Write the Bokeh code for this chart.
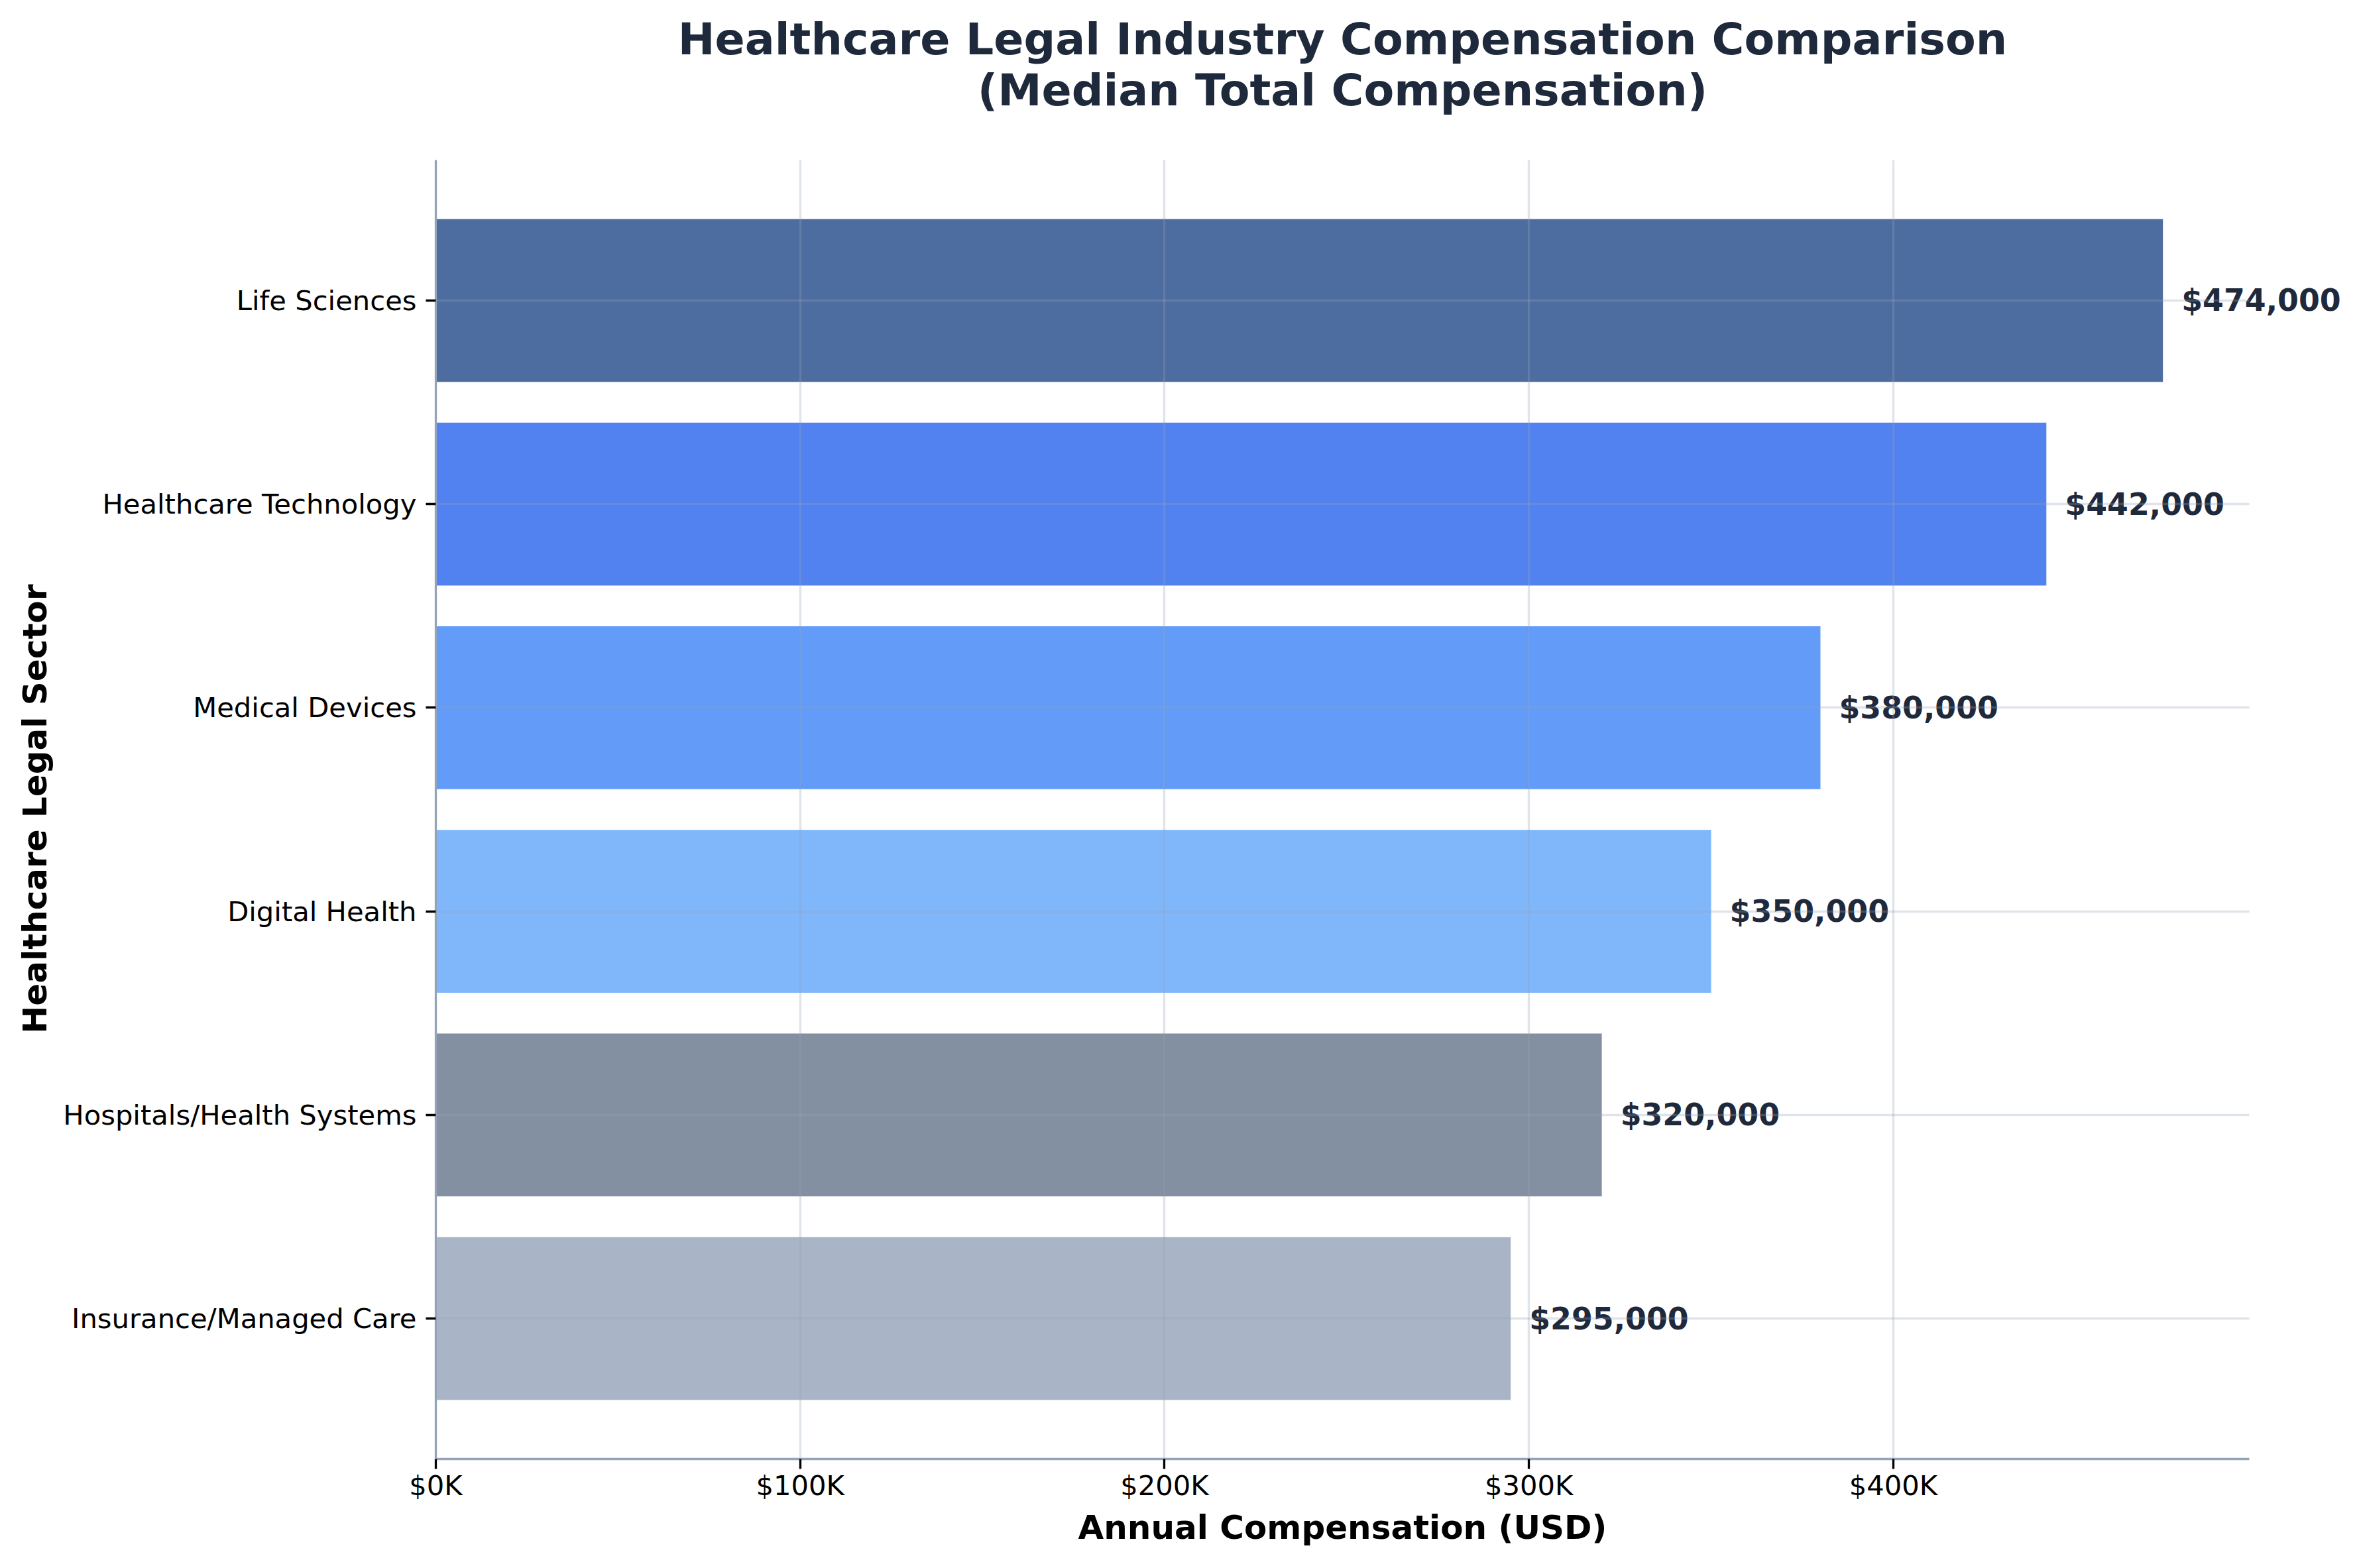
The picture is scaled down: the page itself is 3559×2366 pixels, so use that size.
from bokeh.core.properties import value
from bokeh.embed import file_html
from bokeh.models import (ColumnDataSource, CustomJSTickFormatter, FixedTicker,
                          Label, LabelSet, Range1d, Title)
from bokeh.plotting import figure
from bokeh.resources import INLINE

# Sectors from bottom to top, with median total compensation (USD)
categories = [
    "Insurance/Managed Care",
    "Hospitals/Health Systems",
    "Digital Health",
    "Medical Devices",
    "Healthcare Technology",
    "Life Sciences",
]
values = [295000, 320000, 350000, 380000, 442000, 474000]
colors = ["#94a3b8", "#64748b", "#60a5fa", "#3b82f6", "#2563eb", "#204788"]
x_ticks = [0, 100000, 200000, 300000, 400000]
title_lines = ["Healthcare Legal Industry Compensation Comparison", "(Median Total Compensation)"]

FONT = "DejaVu Sans"
DARK = "#1e293b"
SPINE = "#94a3b8"

# layout (px). The frame runs on to the right and top page edges so that the
# value labels and the title (drawn as annotations) are not clipped; the axes
# themselves end at x_max / y_hi via bounds.
W, H = 3551, 2358
LEFT, AXES_RIGHT, TOP, AXES_BOTTOM = 657, 3393, 241, 2201
BOTTOM = H - AXES_BOTTOM
x_max = max(values) * 1.05
x_end = x_max * (W - LEFT) / (AXES_RIGHT - LEFT)
y_lo, y_hi = -0.69, len(categories) - 1 + 0.69
unit_px = (AXES_BOTTOM - TOP) / (y_hi - y_lo)
y_end = y_hi + TOP / unit_px

positions = list(range(len(categories)))
source = ColumnDataSource(data={
    "y": positions,
    "value": values,
    "color": colors,
    "label": [f"${v:,}" for v in values],
})

p = figure(
    width=W,
    height=H,
    x_range=Range1d(0, x_end),
    y_range=Range1d(y_lo, y_end),
    output_backend="svg",
    toolbar_location=None,
    title_location=None,
    min_border_left=LEFT,
    min_border_right=0,
    min_border_top=0,
    min_border_bottom=BOTTOM,
)
p.outline_line_color = None
p.background_fill_color = "white"

p.hbar(y="y", right="value", left=0, height=0.8, source=source,
       fill_color="color", fill_alpha=0.8, line_color=None)

# value labels at the bar ends
p.add_layout(LabelSet(
    x="value", y="y", text="label", source=source,
    x_offset=28, text_align="left", text_baseline="middle",
    text_font=value(FONT), text_font_size="45.8px", text_font_style="bold",
    text_color=DARK,
))

# two-line title centred over the axes
for text, baseline_px in zip(title_lines, (58, 135)):
    p.add_layout(Label(
        x=x_max / 2, y=y_end - baseline_px / unit_px, text=text,
        text_align="center", text_baseline="alphabetic",
        text_font=FONT, text_font_size="66.7px", text_font_style="bold",
        text_color=DARK,
    ))

# axes
xa = p.xaxis[0]
xa.ticker = FixedTicker(ticks=x_ticks)
xa.formatter = CustomJSTickFormatter(code="return '$' + (tick / 1000).toFixed(0) + 'K';")
xa.bounds = (0, x_max)

ya = p.yaxis[0]
ya.ticker = FixedTicker(ticks=positions)
ya.major_label_overrides = {i: c for i, c in zip(positions, categories)}
ya.bounds = (y_lo, y_hi)

for ax in (xa, ya):
    ax.axis_line_color = SPINE
    ax.axis_line_width = 3.3
    ax.major_tick_line_color = "black"
    ax.major_tick_line_width = 3.3
    ax.major_tick_out = 15
    ax.major_tick_in = 0
    ax.minor_tick_line_color = None
    ax.major_label_text_font = FONT
    ax.major_label_text_font_size = "41.7px"
    ax.major_label_text_color = "black"

xa.major_label_standoff = 0
ya.major_label_standoff = 14

# axis titles, placed so they are centred on the axes rather than on the
# wider frame (offsets from the frame edge, using the rendered text lengths)
label_style = dict(text_font=FONT, text_font_size="50px", text_font_style="bold",
                   text_color="black", align="left")
xlabel_w, ylabel_w = 798, 676
x_mid = (LEFT + AXES_RIGHT) / 2 - LEFT
y_mid = (TOP + AXES_BOTTOM) / 2
p.add_layout(Title(text="Annual Compensation (USD)", offset=x_mid - xlabel_w / 2,
                   standoff=10, **label_style), "below")
p.add_layout(Title(text="Healthcare Legal Sector", offset=AXES_BOTTOM - y_mid - ylabel_w / 2,
                   standoff=22, **label_style), "left")

# grid drawn over the bars, as in the reference
for g in (p.xgrid[0], p.ygrid[0]):
    g.grid_line_color = SPINE
    g.grid_line_alpha = 0.3
    g.grid_line_width = 3.3
    g.level = "overlay"
p.xgrid[0].ticker = FixedTicker(ticks=x_ticks)
p.xgrid[0].cross_bounds = (y_lo, y_hi)
p.ygrid[0].ticker = FixedTicker(ticks=positions)
p.ygrid[0].cross_bounds = (0, x_max)

open("out.html", "w").write(file_html(p, INLINE))
